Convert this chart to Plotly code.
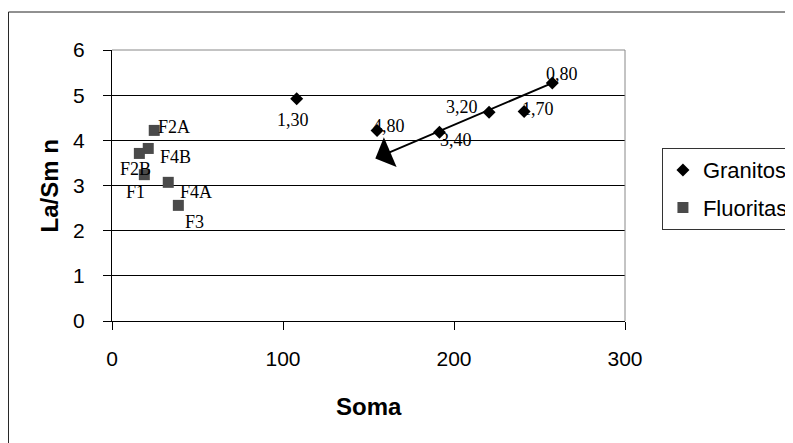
import plotly.graph_objects as go

# Granitos (diamonds)
gran_soma = [108, 155, 191.5, 220.5, 241, 257.5]
gran_lasm = [4.92, 4.22, 4.18, 4.62, 4.64, 5.27]
gran_labels = ["1,30", "4,80", "3,40", "3,20", "1,70", "0,80"]

# Fluoritas (squares)
fluo_soma = [24.7, 21.2, 16, 18.9, 32.9, 38.8]
fluo_lasm = [4.22, 3.82, 3.71, 3.24, 3.07, 2.56]
fluo_labels = ["F2A", "F4B", "F2B", "F1", "F4A", "F3"]

# trend arrow: from / to (Soma, La/Sm n)
arrow_from = (257.5, 5.27)
arrow_to = (154, 3.6)

# label offsets in pixels (dx, dy)
gran_off = [(-4, -21), (12, 4), (17, -8), (-27, 5), (14, 2), (10, 9)]
fluo_off = [(20, 3), (27, -9), (-4, -16), (-9, -17), (28, -10), (16, -17)]

sans = "Liberation Sans, Arial, sans-serif"
serif = "Liberation Serif, Times New Roman, serif"

fig = go.Figure()
fig.add_trace(go.Scatter(
    x=gran_soma, y=gran_lasm, mode="markers", name="Granitos",
    legendgroup="g",
    marker=dict(symbol="diamond", size=10, color="black"),
))
fig.add_trace(go.Scatter(
    x=fluo_soma, y=fluo_lasm, mode="markers", name="Fluoritas",
    legendgroup="f",
    marker=dict(symbol="square", size=11, color="#4a4a4a"),
))

for xs, ys, labs, offs in [(gran_soma, gran_lasm, gran_labels, gran_off),
                           (fluo_soma, fluo_lasm, fluo_labels, fluo_off)]:
    for x, y, t, (dx, dy) in zip(xs, ys, labs, offs):
        fig.add_annotation(x=x, y=y, text=t, showarrow=False,
                           xshift=dx, yshift=dy,
                           font=dict(family=serif, size=18, color="black"))

fig.add_annotation(x=arrow_to[0], y=arrow_to[1], ax=arrow_from[0], ay=arrow_from[1],
                   axref="x", ayref="y", text="", showarrow=True,
                   arrowhead=1, arrowsize=2.7, arrowwidth=2, arrowcolor="black")

# axis titles
fig.add_annotation(xref="paper", yref="paper", x=0.5, y=-0.317,
                   text="<b>Soma</b>", showarrow=False,
                   xanchor="center", yanchor="middle", font=dict(size=24))
fig.add_annotation(xref="paper", yref="paper", x=-0.121, y=0.5,
                   text="<b>La/Sm n</b>", showarrow=False, textangle=-90,
                   xanchor="center", yanchor="middle", font=dict(size=24))

# outer chart frame (page body has an 8px margin, figure is 785x435)
fig.add_shape(type="rect", xref="paper", yref="paper",
              x0=-0.2018, x1=1.4, y0=-0.5, y1=1.1402,
              line=dict(color="#222", width=1))
# gray top and right plot border
fig.add_shape(type="line", xref="paper", yref="paper", x0=0, x1=1, y0=1, y1=1,
              line=dict(color="#888", width=1), layer="above")
fig.add_shape(type="line", xref="paper", yref="paper", x0=1, x1=1, y0=0, y1=1,
              line=dict(color="#888", width=1), layer="above")

fig.update_layout(
    width=785, height=435,
    margin=dict(l=104, r=168, t=42, b=122, autoexpand=False),
    paper_bgcolor="white", plot_bgcolor="white",
    font=dict(family=sans, color="black"),
    showlegend=True,
    legend=dict(x=1.072, y=0.638, xanchor="left", yanchor="top",
                bordercolor="#333", borderwidth=1, bgcolor="white",
                font=dict(family=sans, size=22), tracegroupgap=6),
    xaxis=dict(range=[0, 300], dtick=100, showgrid=False, zeroline=False,
               automargin=False,
               showline=True, linecolor="black", linewidth=1,
               ticks="outside", ticklen=8, tickcolor="black",
               tickfont=dict(size=21), ticklabelstandoff=11),
    yaxis=dict(range=[0, 6], dtick=1, showgrid=True, gridcolor="black", gridwidth=1,
               automargin=False,
               zeroline=False, showline=True, linecolor="black", linewidth=1,
               ticks="outside", ticklen=8, tickcolor="black",
               tickfont=dict(size=21), ticklabelstandoff=14),
)

fig.write_html("out.html")
